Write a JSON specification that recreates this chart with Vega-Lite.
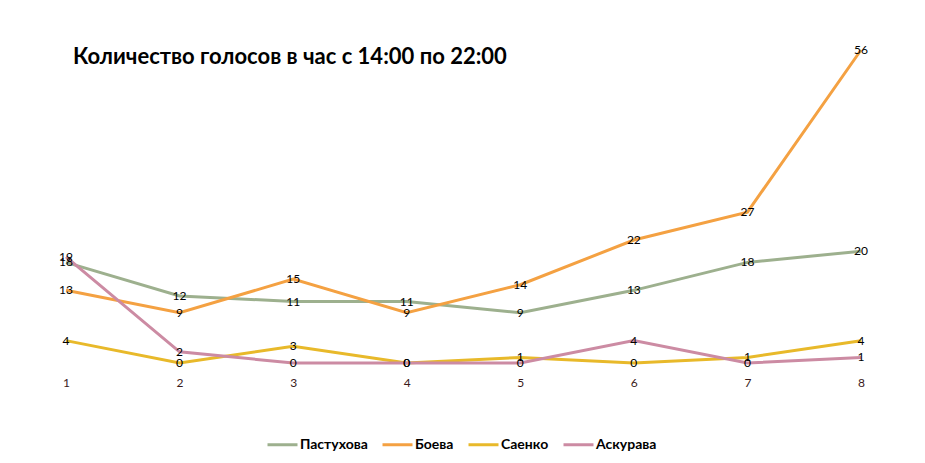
{
  "$schema": "https://vega.github.io/schema/vega-lite/v6.json",
  "autosize": {"type": "none"},
  "width": 795,
  "height": 313,
  "padding": {"left": 66, "top": 50, "right": 64, "bottom": 100},
  "background": "white",
  "title": {
    "text": "Количество голосов в час с 14:00 по 22:00",
    "anchor": "start",
    "frame": "group",
    "font": "Lato",
    "fontSize": 22,
    "fontWeight": "bold",
    "color": "black",
    "baseline": "alphabetic",
    "offset": -42,
    "dx": 7
  },
  "data": {
    "values": [
      {"hour": 1, "name": "Пастухова", "votes": 18},
      {"hour": 2, "name": "Пастухова", "votes": 12},
      {"hour": 3, "name": "Пастухова", "votes": 11},
      {"hour": 4, "name": "Пастухова", "votes": 11},
      {"hour": 5, "name": "Пастухова", "votes": 9},
      {"hour": 6, "name": "Пастухова", "votes": 13},
      {"hour": 7, "name": "Пастухова", "votes": 18},
      {"hour": 8, "name": "Пастухова", "votes": 20},
      {"hour": 1, "name": "Боева", "votes": 13},
      {"hour": 2, "name": "Боева", "votes": 9},
      {"hour": 3, "name": "Боева", "votes": 15},
      {"hour": 4, "name": "Боева", "votes": 9},
      {"hour": 5, "name": "Боева", "votes": 14},
      {"hour": 6, "name": "Боева", "votes": 22},
      {"hour": 7, "name": "Боева", "votes": 27},
      {"hour": 8, "name": "Боева", "votes": 56},
      {"hour": 1, "name": "Саенко", "votes": 4},
      {"hour": 2, "name": "Саенко", "votes": 0},
      {"hour": 3, "name": "Саенко", "votes": 3},
      {"hour": 4, "name": "Саенко", "votes": 0},
      {"hour": 5, "name": "Саенко", "votes": 1},
      {"hour": 6, "name": "Саенко", "votes": 0},
      {"hour": 7, "name": "Саенко", "votes": 1},
      {"hour": 8, "name": "Саенко", "votes": 4},
      {"hour": 1, "name": "Аскурава", "votes": 19},
      {"hour": 2, "name": "Аскурава", "votes": 2},
      {"hour": 3, "name": "Аскурава", "votes": 0},
      {"hour": 4, "name": "Аскурава", "votes": 0},
      {"hour": 5, "name": "Аскурава", "votes": 0},
      {"hour": 6, "name": "Аскурава", "votes": 4},
      {"hour": 7, "name": "Аскурава", "votes": 0},
      {"hour": 8, "name": "Аскурава", "votes": 1}
    ]
  },
  "encoding": {
    "x": {
      "field": "hour",
      "type": "quantitative",
      "scale": {"domain": [1, 8], "nice": false, "zero": false},
      "axis": {
        "title": null,
        "values": [1, 2, 3, 4, 5, 6, 7, 8],
        "ticks": false,
        "domain": false,
        "grid": false,
        "labelFlush": false,
        "labelPadding": 14,
        "labelFont": "Lato",
        "labelFontSize": 12,
        "labelColor": "#3a1a1a"
      }
    },
    "y": {
      "field": "votes",
      "type": "quantitative",
      "scale": {"domain": [0, 56], "nice": false},
      "axis": null
    }
  },
  "layer": [
    {
      "mark": {"type": "line", "strokeWidth": 3},
      "encoding": {
        "color": {
          "field": "name",
          "type": "nominal",
          "scale": {
            "domain": ["Пастухова", "Боева", "Саенко", "Аскурава"],
            "range": ["#9db08e", "#f4a142", "#e8b92a", "#cc8ba3"]
          },
          "legend": {
            "title": null,
            "orient": "none",
            "direction": "horizontal",
            "legendX": 200,
            "legendY": 378,
            "symbolType": "stroke",
            "symbolSize": 900,
            "symbolStrokeWidth": 3,
            "labelFont": "Lato",
            "labelFontSize": 14,
            "labelFontWeight": "bold",
            "labelColor": "black",
            "labelOffset": 1,
            "columnPadding": 8
          }
        }
      }
    },
    {
      "mark": {
        "type": "text",
        "font": "Lato",
        "fontSize": 12,
        "color": "black",
        "align": "center",
        "baseline": "middle"
      },
      "encoding": {
        "text": {"field": "votes", "type": "quantitative"}
      }
    }
  ],
  "config": {
    "view": {"stroke": null}
  }
}
